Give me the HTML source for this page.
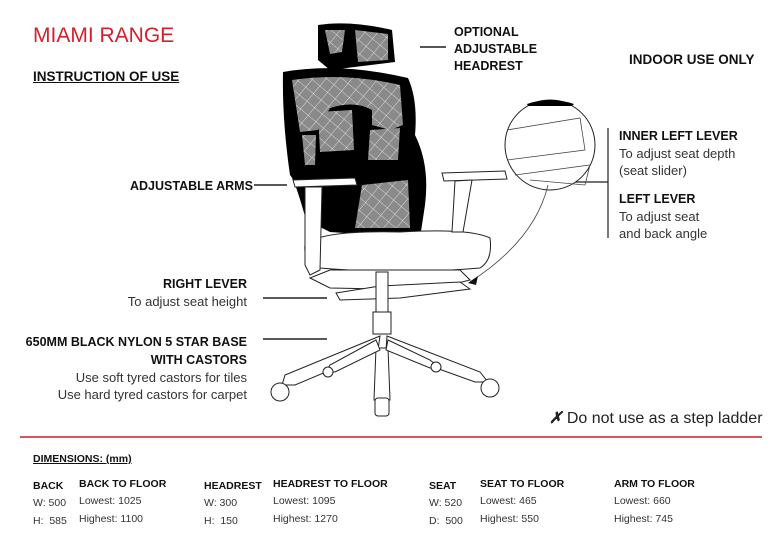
<!DOCTYPE html>
<html><head><meta charset="utf-8"><style>
body{margin:0;width:778px;height:541px;background:#fff;position:relative;overflow:hidden;font-family:"Liberation Sans",sans-serif;color:#111}
.a{position:absolute;white-space:nowrap}
.b{font-weight:bold;font-size:12.5px}
.n{font-size:13px;color:#333}
.r{text-align:right}
.d{font-size:10.5px;color:#333}
.dh{font-size:10.5px;font-weight:bold}
</style></head><body>
<div class="a" style="left:33px;top:24px;font-size:21px;color:#d4202a">MIAMI RANGE</div>
<div class="a b" style="left:33px;top:69px;font-size:13.5px;text-decoration:underline">INSTRUCTION OF USE</div>
<div class="a b" style="left:454px;top:24px;line-height:17px">OPTIONAL<br>ADJUSTABLE<br>HEADREST</div>
<div class="a b" style="left:629px;top:52px;font-size:13.5px">INDOOR USE ONLY</div>
<div class="a b" style="left:130px;top:179px">ADJUSTABLE ARMS</div>
<div class="a" style="left:619px;top:127px;line-height:17px"><span class="b">INNER LEFT LEVER</span><br><span class="n">To adjust seat depth<br>(seat slider)</span></div>
<div class="a" style="left:619px;top:190px;line-height:17px"><span class="b">LEFT LEVER</span><br><span class="n">To adjust seat<br>and back angle</span></div>
<div class="a r" style="right:531px;top:275px;line-height:17px"><span class="b">RIGHT LEVER</span><br><span class="n">To adjust seat height</span></div>
<div class="a r" style="right:531px;top:333px;line-height:17px"><span class="b">650MM BLACK NYLON 5 STAR BASE<br>WITH CASTORS</span><br><span class="n">Use soft tyred castors for tiles<br>Use hard tyred castors for carpet</span></div>
<div class="a" style="left:549px;top:408px;font-size:16px;color:#222"><b style="font-style:italic">✗</b> Do not use as a step ladder</div>
<div style="position:absolute;left:20px;top:436px;width:742px;height:1.5px;background:#e0505a"></div>
<div class="a dh" style="left:33px;top:453px;text-decoration:underline">DIMENSIONS: (mm)</div>
<div class="a dh" style="left:33px;top:480px">BACK</div>
<div class="a d" style="left:33px;top:494px;line-height:18px">W: 500<br>H:&nbsp; 585</div>
<div class="a dh" style="left:79px;top:478px">BACK TO FLOOR</div>
<div class="a d" style="left:79px;top:492px;line-height:18px">Lowest: 1025<br>Highest: 1100</div>
<div class="a dh" style="left:204px;top:480px">HEADREST</div>
<div class="a d" style="left:204px;top:494px;line-height:18px">W: 300<br>H:&nbsp; 150</div>
<div class="a dh" style="left:273px;top:478px">HEADREST TO FLOOR</div>
<div class="a d" style="left:273px;top:492px;line-height:18px">Lowest: 1095<br>Highest: 1270</div>
<div class="a dh" style="left:429px;top:480px">SEAT</div>
<div class="a d" style="left:429px;top:494px;line-height:18px">W: 520<br>D:&nbsp; 500</div>
<div class="a dh" style="left:480px;top:478px">SEAT TO FLOOR</div>
<div class="a d" style="left:480px;top:492px;line-height:18px">Lowest: 465<br>Highest: 550</div>
<div class="a dh" style="left:614px;top:478px">ARM TO FLOOR</div>
<div class="a d" style="left:614px;top:492px;line-height:18px">Lowest: 660<br>Highest: 745</div>

<svg style="position:absolute;left:0;top:0" width="778" height="541" viewBox="0 0 778 541">
<defs><pattern id="m" width="10" height="10" patternUnits="userSpaceOnUse" patternTransform="rotate(40)"><rect width="10" height="10" fill="#8a8a8a"/><path d="M0 0H10M0 0V10" stroke="#eee" stroke-width="0.8"/></pattern></defs>
<g stroke="#222" stroke-width="1.2" fill="none">
<line x1="420" y1="47" x2="446" y2="47" stroke-width="2" stroke="#555"/>
<line x1="254" y1="185" x2="287" y2="185" stroke-width="1.5"/>
<line x1="263" y1="298" x2="327" y2="298" stroke-width="1.5"/>
<line x1="263" y1="339" x2="327" y2="339" stroke-width="1.5"/>
<line x1="608" y1="128" x2="608" y2="238"/>
<line x1="572" y1="182" x2="608" y2="182"/>
</g>
<path d="M318 25 Q350 20 392 30 L395 62 L330 70 L318 60 Z" fill="#000"/>
<path d="M325 30 L345 30 L342 52 L330 54 Z M355 30 L388 34 L388 60 L358 62 Z" fill="url(#m)"/>
<path d="M283 72 Q340 62 408 78 Q418 100 415 135 Q430 165 425 205 L420 238 L330 232 L306 220 Q295 180 290 175 Q282 120 283 72 Z" fill="#000"/>
<path d="M292 80 Q345 72 400 85 L403 125 L390 130 L372 125 L372 110 Q355 100 330 108 L318 130 L300 132 Z" fill="url(#m)"/>
<path d="M318 112 L352 110 L354 150 L320 152 Z" fill="url(#m)"/>
<path d="M302 135 L316 135 L315 165 L305 165 Z M370 130 L400 128 L398 160 L368 160 Z" fill="url(#m)"/>
<path d="M362 185 L408 180 L410 228 L355 228 Z" fill="url(#m)"/>
<g stroke="#222" stroke-width="1" fill="#fff">
<path d="M305 245 Q320 230 400 232 Q470 228 490 238 Q493 260 480 268 Q400 275 320 268 Q303 262 305 245 Z"/>
<path d="M310 278 L330 270 L460 270 L470 280 L430 290 L330 288 Z"/>
<path d="M336 293 L380 286 L460 282 L470 289 L400 298 L340 300 Z"/>
<rect x="376" y="272" width="12" height="40"/>
<rect x="373" y="312" width="18" height="22"/>
<path d="M380 336 L285 375 L282 385 L295 385 L378 350 Z"/>
<path d="M387 336 L480 372 L488 382 L475 382 L386 350 Z"/>
<path d="M376 348 L374 400 L390 400 L388 348 Z"/>
<path d="M376 340 L330 365 L325 372 L335 372 L380 350 Z"/>
<path d="M388 340 L430 360 L440 368 L430 368 L386 350 Z"/>
<circle cx="280" cy="392" r="9"/><circle cx="490" cy="388" r="9"/>
<rect x="375" y="398" width="14" height="18" rx="3"/>
<circle cx="328" cy="372" r="5"/><circle cx="436" cy="367" r="5"/>
<path d="M293 180 L355 178 L357 185 L295 187 Z"/>
<path d="M305 187 L322 187 L320 270 L310 275 L305 265 Z"/>
<path d="M442 173 L505 171 L507 179 L444 181 Z"/>
<path d="M455 181 L472 180 L463 232 L452 232 Z"/>
<circle cx="550" cy="145" r="45"/>
</g>
<path d="M527 104 Q550 96 574 104 L572 106 L528 106 Z" fill="#000"/>
<g stroke="#444" stroke-width="0.8" fill="none">
<path d="M507 130 L580 118 L585 150 L507 160"/><path d="M515 175 L590 165 L585 185 L530 180"/>
<path d="M548 185 Q535 240 470 282"/>
</g>
<path d="M468 283 L478 276 L476 285 Z" fill="#111"/>
</svg>
</body></html>
